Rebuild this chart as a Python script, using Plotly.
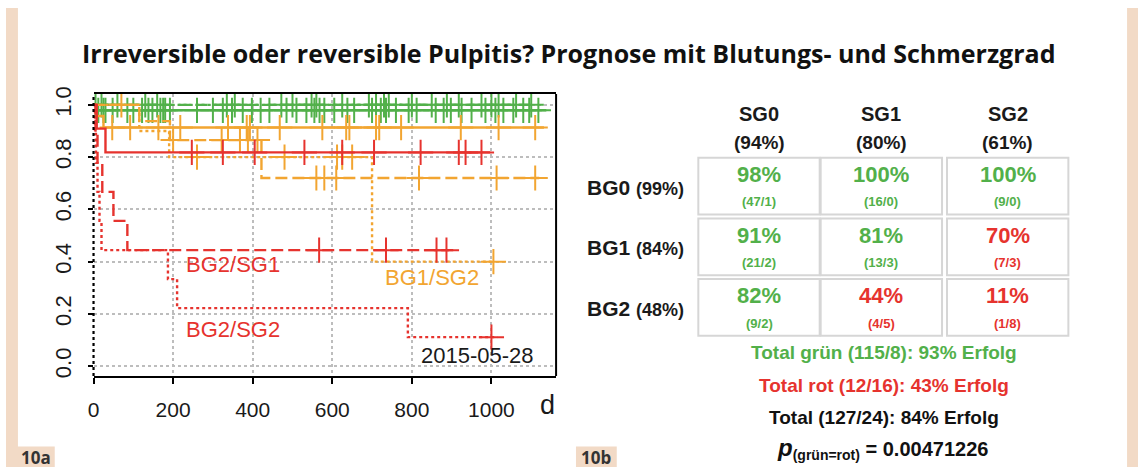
import plotly.graph_objects as go

W, H = 1138, 469

# ---------------- Kaplan-Meier data (days / survival) ----------------
# BG0 / SG0  (green, solid)
bg0_sg0_event_days = [8]
bg0_sg0_event_surv = [0.979]
bg0_sg0_censor_days = [12, 25, 30, 48, 85, 100, 122, 138, 148, 168, 175, 180, 192, 260, 300,
                       325, 348, 375, 398, 420, 442, 485, 510, 535, 555, 568, 580, 605, 638,
                       655, 700, 722, 735, 760, 792, 812, 860, 880, 898, 925, 950, 985, 1010,
                       1030, 1055, 1080, 1095, 1118]
bg0_sg0_end = 1138
# BG0 / SG1  (green, dashed)
bg0_sg1_event_days = []
bg0_sg1_event_surv = []
bg0_sg1_censor_days = [5, 60, 130, 160, 335, 355, 472, 548, 625, 710, 742, 850, 918, 1000, 1062, 1100]
bg0_sg1_end = 1100
# BG0 / SG2  (green, dotted)
bg0_sg2_event_days = []
bg0_sg2_event_surv = []
bg0_sg2_censor_days = [20, 500, 560, 692, 730, 800, 888, 975, 1018]
bg0_sg2_end = 1060
# BG1 / SG0  (orange, solid)
bg1_sg0_event_days = [8, 25]
bg1_sg0_event_surv = [0.957, 0.913]
bg1_sg0_censor_days = [47, 92, 163, 218, 338, 385, 393, 468, 575, 635, 643, 710, 718, 773, 923, 1018, 1110]
bg1_sg0_end = 1132
# BG1 / SG1  (orange, dashed)
bg1_sg1_event_days = [115, 192, 422]
bg1_sg1_event_surv = [0.9375, 0.865, 0.72]
bg1_sg1_censor_days = [70, 200, 322, 368, 388, 412, 560, 580, 610, 818, 1013, 1110]
bg1_sg1_end = 1120
# BG1 / SG2  (orange, dotted)
bg1_sg2_event_days = [115, 190, 700]
bg1_sg2_event_surv = [0.9, 0.8, 0.4]
bg1_sg2_censor_days = [260, 480, 612, 625, 650, 1005]
bg1_sg2_end = 1005
# BG2 / SG0  (red, solid)
bg2_sg0_event_days = [8, 30]
bg2_sg0_event_surv = [0.909, 0.818]
bg2_sg0_censor_days = [247, 325, 405, 530, 625, 705, 822, 918, 935, 975]
bg2_sg0_end = 997
# BG2 / SG1  (red, dashed)
bg2_sg1_event_days = [5, 10, 22, 50, 85]
bg2_sg1_event_surv = [0.889, 0.778, 0.667, 0.556, 0.444]
bg2_sg1_censor_days = [567, 735, 862, 887]
bg2_sg1_end = 912
# BG2 / SG2  (red, dotted)
bg2_sg2_event_days = [3, 6, 10, 15, 20, 187, 210, 790]
bg2_sg2_event_surv = [0.889, 0.778, 0.667, 0.556, 0.444, 0.333, 0.222, 0.111]
bg2_sg2_censor_days = [1000]
bg2_sg2_end = 1015

x_ticks = [0, 200, 400, 600, 800, 1000]
y_ticks = [0.0, 0.2, 0.4, 0.6, 0.8, 1.0]
y_tick_text = ["0.0", "0.2", "0.4", "0.6", "0.8", "1.0"]

curve_label_text = ["BG2/SG1", "BG2/SG2", "BG1/SG2"]
curve_label_day = [350, 350, 850]
curve_label_surv = [0.39, 0.142, 0.341]
date_stamp = "2015-05-28"

# ---------------- table data ----------------
sg_labels = ["SG0", "SG1", "SG2"]
sg_pct = ["94%", "80%", "61%"]
bg_labels = ["BG0", "BG1", "BG2"]
bg_pct = ["99%", "84%", "48%"]
cell_pct = [[98, 100, 100], [91, 81, 70], [82, 44, 11]]
cell_ok = [[47, 16, 9], [21, 13, 7], [9, 4, 1]]
cell_fail = [[1, 0, 0], [2, 3, 3], [2, 5, 8]]
cell_green = [[1, 1, 1], [1, 1, 0], [1, 0, 0]]
total_lines = ["Total grün (115/8): 93% Erfolg",
               "Total rot (12/16): 43% Erfolg",
               "Total (127/24): 84% Erfolg"]
p_value = "0.00471226"
title_text = "Irreversible oder reversible Pulpitis? Prognose mit Blutungs- und Schmerzgrad"

# ---------------- styles ----------------
GREEN = "#52b04a"
ORANGE = "#f2a531"
RED = "#e6332e"
BEIGE = "#f2dac6"
FONT = "Liberation Sans, Arial, sans-serif"

DASH = {"solid": "solid", "dash": "12px,5px", "dot": "3px,3px"}

curves = [
    (bg0_sg0_event_days, bg0_sg0_event_surv, bg0_sg0_censor_days, bg0_sg0_end, GREEN, "solid"),
    (bg0_sg1_event_days, bg0_sg1_event_surv, bg0_sg1_censor_days, bg0_sg1_end, GREEN, "dash"),
    (bg0_sg2_event_days, bg0_sg2_event_surv, bg0_sg2_censor_days, bg0_sg2_end, GREEN, "dot"),
    (bg1_sg0_event_days, bg1_sg0_event_surv, bg1_sg0_censor_days, bg1_sg0_end, ORANGE, "solid"),
    (bg1_sg1_event_days, bg1_sg1_event_surv, bg1_sg1_censor_days, bg1_sg1_end, ORANGE, "dash"),
    (bg1_sg2_event_days, bg1_sg2_event_surv, bg1_sg2_censor_days, bg1_sg2_end, ORANGE, "dot"),
    (bg2_sg0_event_days, bg2_sg0_event_surv, bg2_sg0_censor_days, bg2_sg0_end, RED, "solid"),
    (bg2_sg1_event_days, bg2_sg1_event_surv, bg2_sg1_censor_days, bg2_sg1_end, RED, "dash"),
    (bg2_sg2_event_days, bg2_sg2_event_surv, bg2_sg2_censor_days, bg2_sg2_end, RED, "dot"),
]


def km_path(ev_d, ev_s, end):
    xs, ys = [0], [1.0]
    for d, s in zip(ev_d, ev_s):
        xs.append(d)
        ys.append(s)
    xs.append(end)
    ys.append(ys[-1])
    return xs, ys


def surv_at(t, ev_d, ev_s):
    s = 1.0
    for d, v in zip(ev_d, ev_s):
        if d <= t:
            s = v
    return s


def px(x):
    return x / W


def py(y):
    return 1 - y / H


def note(x, y, text, size, color, family=FONT, xanchor="center", ref="paper"):
    return dict(x=x, y=y, xref=ref if ref == "paper" else "x", yref=ref if ref == "paper" else "y",
                text=text, showarrow=False, xanchor=xanchor, yanchor="middle",
                font=dict(family=family, size=size, color=color))


fig = go.Figure()

for ev_d, ev_s, cens, end, col, style in curves:
    xs, ys = km_path(ev_d, ev_s, end)
    fig.add_trace(go.Scatter(x=xs, y=ys, mode="lines", line_shape="hv",
                             line=dict(color=col, width=2.4, dash=DASH[style]),
                             hoverinfo="skip", showlegend=False))
    fig.add_trace(go.Scatter(x=cens, y=[surv_at(t, ev_d, ev_s) for t in cens], mode="markers",
                             marker=dict(symbol="cross-thin", size=18, color=col,
                                         line=dict(color=col, width=2)),
                             hoverinfo="skip", showlegend=False))

annotations = []
for t, d, s in zip(curve_label_text, curve_label_day, curve_label_surv):
    col = ORANGE if t.startswith("BG1") else RED
    annotations.append(note(d, s, t, 22, col, ref="data"))
annotations.append(note(1112, 0.041, date_stamp, 22, "#1a1a1a", xanchor="right", ref="data"))
annotations.append(note(px(544), py(406), "d", 27, "#1a1a1a"))

# title
annotations.append(note(px(566), py(46), "<b>" + title_text + "</b>", 25, "#111111",
                        family="Open Sans, sans-serif"))

# table
col_x0 = [696, 819, 946]
col_w = 122
row_y0 = [153, 215, 277]
row_h = 58
shapes = []
for j in range(3):
    cx = col_x0[j] + col_w / 2
    annotations.append(note(px(cx), py(108), "<b>" + sg_labels[j] + "</b>", 20, "#1a1a1a"))
    annotations.append(note(px(cx), py(137), "<b>(" + sg_pct[j] + ")</b>", 19, "#1a1a1a"))
for i in range(3):
    annotations.append(note(px(684), py(row_y0[i] + 30),
                            "<b>" + bg_labels[i] + " <span style='font-size:18px'>(" + bg_pct[i] + ")</span></b>",
                            21, "#1a1a1a", xanchor="right"))
    for j in range(3):
        x0 = col_x0[j]
        y0 = row_y0[i]
        shapes.append(dict(type="rect", xref="paper", yref="paper",
                           x0=px(x0), x1=px(x0 + col_w), y0=py(y0 + row_h), y1=py(y0),
                           line=dict(color="#d6d6d6", width=2), fillcolor="white"))
        col = GREEN if cell_green[i][j] else RED
        annotations.append(note(px(x0 + col_w / 2), py(y0 + 17), "<b>%d%%</b>" % cell_pct[i][j], 22, col))
        annotations.append(note(px(x0 + col_w / 2), py(y0 + 45),
                                "<b>(%d/%d)</b>" % (cell_ok[i][j], cell_fail[i][j]), 13, col))

total_colors = [GREEN, RED, "#111111"]
total_y = [352, 386, 418]
for t, c, yy in zip(total_lines, total_colors, total_y):
    annotations.append(note(px(883), py(yy), "<b>" + t + "</b>", 19, c))
annotations.append(note(px(881), py(450),
                        "<b><span style='font-size:24px'><i>p</i></span><sub>(grün=rot)</sub> = " + p_value + "</b>",
                        20, "#111111"))

# panel labels / beige frame
shapes.append(dict(type="rect", xref="paper", yref="paper", x0=0, x1=px(12), y0=0, y1=1,
                   line=dict(width=0), fillcolor=BEIGE))
shapes.append(dict(type="rect", xref="paper", yref="paper", x0=px(1127), x1=1, y0=0, y1=1,
                   line=dict(width=0), fillcolor=BEIGE))
shapes.append(dict(type="rect", xref="paper", yref="paper", x0=0, x1=px(49), y0=0, y1=py(448),
                   line=dict(width=0), fillcolor=BEIGE))
shapes.append(dict(type="rect", xref="paper", yref="paper", x0=px(573), x1=px(614), y0=0, y1=py(448),
                   line=dict(width=0), fillcolor=BEIGE))
annotations.append(note(px(30), py(459), "<b>10a</b>", 17, "#333333", family="Open Sans, sans-serif"))
annotations.append(note(px(593), py(459), "<b>10b</b>", 17, "#333333", family="Open Sans, sans-serif"))

# plot frame: dotted left edge, solid right edge
shapes.append(dict(type="line", xref="x domain", yref="y domain", x0=0, x1=0, y0=0, y1=1,
                   line=dict(color="black", width=2.2, dash="dot")))
shapes.append(dict(type="line", xref="x domain", yref="y domain", x0=1, x1=1, y0=0, y1=1,
                   line=dict(color="black", width=2)))

fig.update_layout(
    width=W, height=H, autosize=False,
    margin=dict(l=0, r=0, t=0, b=0),
    paper_bgcolor="white", plot_bgcolor="white",
    showlegend=False,
    annotations=annotations, shapes=shapes,
    xaxis=dict(domain=[px(88), px(553)], range=[0, 1162.5], tickvals=x_ticks,
               ticks="outside", ticklen=6, tickwidth=2, tickcolor="black",
               showline=True, linecolor="black", linewidth=2, mirror=True,
               showgrid=True, gridcolor="#bdbdbd", griddash="dot", gridwidth=1.5,
               zeroline=False, ticklabelstandoff=8,
               tickfont=dict(family=FONT, size=21, color="#1a1a1a")),
    yaxis=dict(domain=[py(376), py(88)], range=[-0.0375, 1.041], tickvals=y_ticks,
               ticktext=y_tick_text, tickangle=-90,
               ticks="outside", ticklen=5, tickwidth=2, tickcolor="black",
               showline=False, showgrid=True, gridcolor="#bdbdbd", griddash="dot", gridwidth=1.5,
               zeroline=False, ticklabelstandoff=8,
               tickfont=dict(family=FONT, size=22, color="#1a1a1a")),
)

fig.write_html("out.html", config={"displayModeBar": False},
               post_script="document.body.style.margin='0';")
